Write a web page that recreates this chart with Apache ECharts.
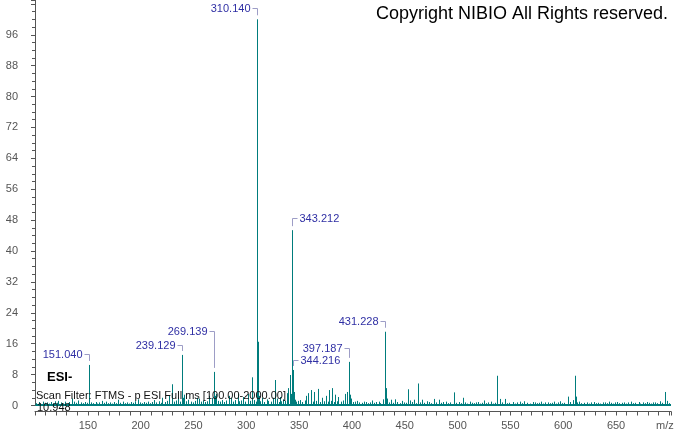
<!DOCTYPE html>
<html><head><meta charset="utf-8">
<script src="https://cdn.jsdelivr.net/npm/echarts@6/dist/echarts.min.js"></script>
<style>html,body{margin:0;padding:0;background:#fff}#c{width:674px;height:434px}</style>
</head><body><div id="c"></div>
<script>
// Labelled peaks (m/z, relative intensity %)
const labelMz  = [151.040, 239.129, 269.139, 310.140, 343.212, 344.216, 397.187, 431.228];
const labelInt = [10.5, 13.1, 8.7, 100, 45.4, 9.2, 11.3, 19.1];
// label placement (style): side and lift in px
const labelSide = ['left', 'left', 'left', 'left', 'right', 'right', 'left', 'left'];
const labelLift = [11, 10, 41, 11, 12, 10, 14, 11];

// Other visible peaks
const peakMz  = [122.0, 135.1, 137.0, 141.0, 163.0, 178.1, 197.1, 213.1, 220.1, 227.1, 229.5, 235.1, 240.1, 241.1, 245.0, 253.1, 255.2, 265.1, 267.1, 270.1, 271.1, 283.2, 285.1, 291.8, 297.2, 301.2, 305.1, 311.14, 312.1, 315.1, 319.2, 325.2, 327.4, 329.2, 332.0, 335.2, 338.4, 339.9, 341.2, 342.2, 345.2, 346.2, 351.2, 356.3, 358.8, 361.0, 364.2, 368.2, 371.2, 375.2, 378.3, 381.4, 384.0, 387.2, 393.2, 395.2, 398.2, 399.2, 405.2, 411.2, 419.2, 425.2, 429.2, 432.2, 433.2, 437.2, 441.2, 447.2, 453.1, 455.2, 459.2, 462.6, 466.0, 471.2, 477.4, 482.0, 489.2, 496.2, 505.0, 511.3, 519.2, 525.3, 531.2, 537.7, 540.3, 545.0, 552.3, 559.3, 563.0, 571.2, 579.3, 585.3, 591.3, 597.3, 604.7, 609.0, 610.7, 611.7, 615.3, 622.3, 629.3, 637.3, 643.3, 651.3, 657.3, 664.3, 671.3, 679.3, 685.3, 691.3, 696.5, 698.5];
const peakInt = [1.2, 1.8, 1.0, 1.3, 1.2, 1.5, 1.6, 1.4, 2.0, 2.5, 5.5, 2.2, 2.0, 2.8, 1.5, 2.0, 1.8, 2.5, 2.0, 2.5, 3.0, 2.5, 2.0, 3.0, 2.2, 3.0, 7.3, 16.5, 2.5, 2.0, 1.6, 2.0, 6.6, 1.8, 2.2, 1.6, 3.2, 4.5, 7.9, 3.0, 3.5, 1.5, 1.4, 2.5, 3.2, 4.0, 3.5, 4.3, 2.0, 2.5, 4.0, 4.5, 2.8, 2.2, 3.0, 3.5, 2.8, 1.8, 1.2, 1.0, 1.3, 1.0, 1.6, 4.5, 1.8, 1.5, 1.6, 1.2, 4.2, 1.3, 1.5, 5.7, 1.5, 1.1, 1.7, 1.5, 1.0, 3.4, 2.0, 1.0, 0.9, 1.3, 1.0, 7.7, 1.7, 1.7, 0.9, 1.0, 1.1, 0.9, 1.0, 0.8, 1.0, 1.1, 2.3, 1.4, 7.7, 2.3, 1.0, 0.8, 0.9, 0.8, 1.0, 0.9, 0.8, 1.0, 0.9, 0.9, 0.8, 1.1, 3.5, 1.2];

// Low-level baseline peaks
const grassMz  = [101.2, 103.5, 105.1, 107.9, 109.4, 111.0, 113.2, 115.1, 117.0, 119.3, 121.1, 124.6, 126.2, 128.0, 130.9, 132.4, 139.0, 143.1, 145.0, 147.2, 149.1, 153.0, 155.1, 157.4, 159.1, 161.0, 165.2, 167.1, 169.0, 171.1, 173.3, 175.0, 177.0, 180.2, 183.1, 185.0, 187.1, 189.2, 191.1, 193.0, 195.1, 199.2, 201.0, 203.1, 205.1, 207.0, 209.1, 211.2, 215.0, 217.1, 219.2, 223.0, 225.1, 231.1, 233.2, 237.1, 243.1, 247.2, 249.1, 251.0, 257.1, 259.2, 261.1, 263.0, 273.2, 275.1, 277.0, 279.2, 281.1, 287.2, 289.0, 293.1, 295.2, 299.0, 303.2, 307.1, 309.0, 313.2, 317.1, 321.0, 323.2, 331.1, 333.2, 337.0, 347.2, 349.1, 353.0, 355.2, 363.1, 366.0, 370.1, 373.2, 377.0, 380.1, 383.2, 386.0, 389.2, 391.1, 401.0, 403.2, 407.1, 409.2, 413.0, 415.1, 417.3, 421.1, 423.2, 427.0, 435.1, 439.2, 443.0, 445.2, 449.1, 451.0, 457.1, 461.0, 464.2, 468.1, 473.0, 475.2, 479.1, 484.2, 486.0, 491.1, 493.2, 498.1, 501.0, 503.2, 507.1, 509.0, 513.2, 515.1, 517.0, 521.2, 523.1, 527.0, 529.2, 533.1, 535.0, 542.1, 547.2, 549.1, 554.0, 556.2, 561.1, 566.0, 568.2, 573.1, 575.0, 577.2, 581.1, 583.0, 587.2, 589.1, 593.0, 595.2, 599.1, 601.0, 606.2, 613.1, 617.0, 619.2, 624.1, 626.0, 631.2, 633.1, 635.0, 639.2, 641.1, 645.0, 647.2, 649.1, 653.0, 655.2, 659.1, 661.0, 666.2, 668.1, 673.0, 675.2, 677.1, 681.0, 683.2, 687.1, 689.0, 693.2, 700.1];
const grassInt = [0.6, 0.9, 0.5, 1.0, 0.7, 0.8, 0.5, 0.9, 0.6, 1.1, 0.7, 0.8, 0.5, 1.0, 0.6, 0.9, 0.7, 0.8, 0.6, 0.9, 0.7, 0.8, 0.6, 0.9, 0.5, 0.8, 0.7, 1.0, 0.6, 0.8, 0.5, 0.9, 0.6, 0.7, 1.0, 0.6, 0.8, 0.5, 0.9, 0.7, 1.1, 0.8, 0.6, 0.9, 0.7, 1.0, 0.6, 0.9, 0.8, 1.1, 0.7, 0.9, 1.2, 1.0, 1.3, 1.0, 1.1, 1.0, 0.8, 1.2, 1.0, 1.3, 0.9, 1.1, 1.2, 1.0, 1.4, 0.9, 1.3, 1.0, 1.4, 1.1, 1.3, 1.0, 1.2, 1.4, 1.0, 1.1, 0.9, 1.2, 1.0, 0.9, 1.1, 1.2, 1.0, 1.2, 0.9, 1.3, 1.0, 1.2, 0.9, 1.1, 1.0, 1.2, 0.9, 1.1, 1.0, 1.3, 0.9, 1.0, 0.8, 0.7, 0.9, 0.6, 0.8, 0.7, 0.9, 0.6, 0.8, 0.7, 0.9, 0.6, 0.8, 0.7, 0.9, 0.6, 0.8, 0.7, 0.9, 0.6, 0.8, 0.7, 0.9, 0.6, 0.8, 0.7, 0.9, 0.6, 0.8, 0.5, 0.7, 0.6, 0.8, 0.5, 0.7, 0.6, 0.8, 0.5, 0.7, 0.8, 0.6, 0.7, 0.5, 0.8, 0.6, 0.7, 0.5, 0.8, 0.6, 0.7, 0.5, 0.8, 0.6, 0.7, 0.5, 0.8, 0.6, 0.7, 0.9, 0.8, 0.6, 0.7, 0.5, 0.8, 0.6, 0.7, 0.5, 0.8, 0.6, 0.7, 0.5, 0.8, 0.6, 0.7, 0.5, 0.8, 0.6, 0.7, 0.5, 0.8, 0.6, 0.7, 0.5, 0.8, 0.6, 0.7, 0.6];

// Baseline of the spectrum (scan range shown)
const baseMz  = [100.3, 702];
const baseInt = [0.15, 0.15];

// Axis ticks
const xMin = 100, xMax = 702, xStep = 50;
const yMin = 0, yMax = 105, yStep = 8;

const TEAL = '#007c7c';
const FONT = '"Liberation Sans", Arial, sans-serif';

function renderStick(params, api) {
  const mz = api.value(0), v = api.value(1);
  const p = api.coord([mz, v]), b = api.coord([mz, 0]);
  const x = Math.round(p[0]) + 0.5;
  return { type: 'line', shape: { x1: x, y1: b[1], x2: x, y2: p[1] },
           style: { stroke: TEAL, lineWidth: 1 } };
}

function renderLabeled(params, api) {
  const i = params.dataIndex;
  const mz = api.value(0), v = api.value(1);
  const p = api.coord([mz, v]), b = api.coord([mz, 0]);
  const x = Math.round(p[0]) + 0.5;
  const ly = Math.round(p[1] - labelLift[i]) + 0.5;
  const dir = labelSide[i] === 'left' ? -1 : 1;
  return { type: 'group', children: [
    { type: 'line', shape: { x1: x, y1: b[1], x2: x, y2: p[1] }, style: { stroke: TEAL, lineWidth: 1 } },
    { type: 'polyline', shape: { points: [[x, p[1] - 4], [x, ly], [x + dir * 5, ly]] },
      style: { stroke: '#9d9dc6', lineWidth: 1, fill: null } },
    { type: 'text', x: x + dir * 7, y: ly,
      style: { text: mz.toFixed(3), fill: '#2f2fa4', font: '11px ' + FONT,
               align: dir < 0 ? 'right' : 'left', verticalAlign: 'middle' } }
  ] };
}

const chart = echarts.init(document.getElementById('c'), null, { renderer: 'canvas' });
chart.setOption({
  animation: false,
  backgroundColor: '#ffffff',
  grid: { left: 35, right: 0, top: 0, height: 405.5, containLabel: false },
  xAxis: {
    type: 'value', min: xMin, max: xMax, interval: xStep,
    offset: 6,
    axisLine: { onZero: false, lineStyle: { color: '#555', width: 1 } },
    axisTick: { length: 4, lineStyle: { color: '#555' } },
    minorTick: { show: true, splitNumber: 5, length: 4, lineStyle: { color: '#555' } },
    splitLine: { show: false },
    axisLabel: { color: '#555', fontSize: 11, fontFamily: FONT, margin: 9,
                 formatter: v => (v <= xMin || v >= 700) ? '' : String(v) }
  },
  yAxis: {
    type: 'value', min: yMin, max: yMax, interval: yStep,
    axisLine: { show: true, lineStyle: { color: '#555', width: 1 } },
    axisTick: { show: true, length: 4, lineStyle: { color: '#555' } },
    minorTick: { show: true, splitNumber: 4, length: 3, lineStyle: { color: '#555' } },
    splitLine: { show: false },
    axisLabel: { color: '#555', fontSize: 11, fontFamily: FONT, margin: 17,
                 formatter: v => v > 100 ? '' : String(v) }
  },
  series: [
    { type: 'line', data: baseMz.map((m, i) => [m, baseInt[i]]), symbol: 'none',
      lineStyle: { color: TEAL, width: 2 }, silent: true, z: 1 },
    { type: 'custom', renderItem: renderStick, clip: true, silent: true, z: 2,
      data: grassMz.map((m, i) => [m, grassInt[i]]) },
    { type: 'custom', renderItem: renderStick, clip: true, silent: true, z: 2,
      data: peakMz.map((m, i) => [m, peakInt[i]]) },
    { type: 'custom', renderItem: renderLabeled, clip: false, silent: true, z: 3,
      data: labelMz.map((m, i) => [m, labelInt[i]]) }
  ],
  graphic: [
    { type: 'text', right: 6, top: 5, z: 10,
      style: { text: 'Copyright NIBIO All Rights reserved.', font: '18px ' + FONT, fill: '#000' } },
    { type: 'text', left: 47, top: 371, z: 10,
      style: { text: 'ESI-', font: 'bold 13px ' + FONT, fill: '#000' } },
    { type: 'text', left: 36, top: 390, z: 10,
      style: { text: 'Scan Filter: FTMS - p ESI Full ms [100.00-2000.00]', font: '11px ' + FONT, fill: '#111' } },
    { type: 'text', left: 37, top: 402, z: 10,
      style: { text: '10.948', font: '11px ' + FONT, fill: '#111' } },
    { type: 'text', left: 656, top: 420, z: 10,
      style: { text: 'm/z', font: '11px ' + FONT, fill: '#555' } }
  ]
});
</script></body></html>
